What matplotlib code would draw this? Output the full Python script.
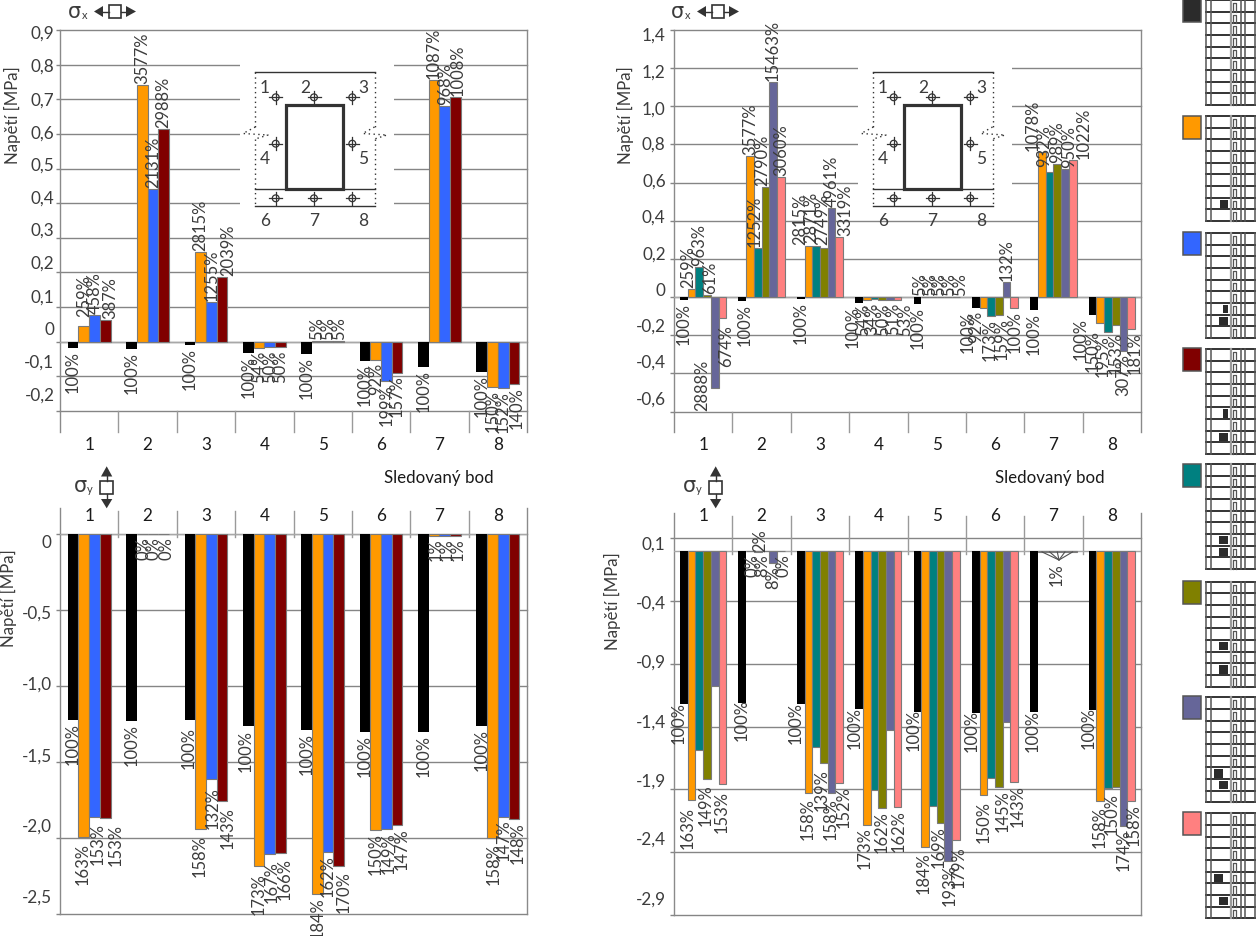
import matplotlib
matplotlib.use("Agg")
import matplotlib.pyplot as plt
from matplotlib.patches import Rectangle, Circle, Polygon
from matplotlib.transforms import ScaledTranslation

plt.rcParams['font.family'] = ['Lato', 'DejaVu Sans']

W, H = 1256, 937
points = ['1', '2', '3', '4', '5', '6', '7', '8']

BLACK, ORANGE, BLUE, MAROON = '#000000', '#FF9900', '#3366FF', '#800000'
TEAL, OLIVE, PURPLE, PINK = '#008080', '#808000', '#666699', '#FF8080'

# ---- sigma-x, left chart
tl_colors = [BLACK, ORANGE, BLUE, MAROON]
tl_values = [
    [-0.017, -0.0206, -0.0092, -0.032, -0.036, -0.055, -0.072, -0.087],
    [0.044, 0.740, 0.260, -0.0175, 0.002, -0.052, 0.757, -0.132],
    [0.076, 0.440, 0.115, -0.016, 0.002, -0.113, 0.680, -0.133],
    [0.064, 0.615, 0.188, -0.016, 0.002, -0.089, 0.708, -0.122],
]
tl_labels = [
    ['100%'] * 8,
    ['259%', '3577%', '2815%', '54%', '5%', '92%', '1087%', '150%'],
    ['458%', '2131%', '1255%', '50%', '5%', '199%', '968%', '152%'],
    ['387%', '2988%', '2039%', '50%', '5%', '157%', '1008%', '140%'],
]

# ---- sigma-x, right chart
tr_colors = [BLACK, ORANGE, TEAL, OLIVE, PURPLE, PINK]
tr_values = [
    [-0.017, -0.021, -0.009, -0.032, -0.035, -0.058, -0.070, -0.093],
    [0.044, 0.741, 0.266, -0.0175, 0.002, -0.055, 0.759, -0.138],
    [0.158, 0.257, 0.269, -0.011, 0.002, -0.100, 0.655, -0.182],
    [0.010, 0.577, 0.257, -0.016, 0.002, -0.093, 0.696, -0.145],
    [-0.477, 1.127, 0.467, -0.016, 0.002, 0.077, 0.671, -0.285],
    [-0.112, 0.631, 0.313, -0.017, 0.002, -0.058, 0.720, -0.170],
]
tr_labels = [
    ['100%'] * 8,
    ['259%', '3577%', '2815%', '54%', '5%', '92%', '1078%', '150%'],
    ['963%', '1252%', '2871%', '34%', '5%', '173%', '932%', '195%'],
    ['61%', '2790%', '2749%', '50%', '5%', '159%', '989%', '153%'],
    ['2888%', '15463%', '4961%', '51%', '5%', '132%', '950%', '307%'],
    ['674%', '3060%', '3319%', '53%', '5%', '100%', '1022%', '181%'],
]

# ---- sigma-y, left chart
bl_colors = [BLACK, ORANGE, BLUE, MAROON]
bl_values = [
    [-1.222, -1.230, -1.224, -1.263, -1.290, -1.300, -1.300, -1.263],
    [-1.993, -0.002, -1.941, -2.182, -2.368, -1.950, -0.010, -2.000],
    [-1.864, -0.002, -1.614, -2.107, -2.090, -1.940, -0.010, -1.860],
    [-1.868, -0.002, -1.754, -2.099, -2.184, -1.914, -0.010, -1.875],
]
bl_labels = [
    ['100%'] * 8,
    ['163%', '0%', '158%', '173%', '184%', '150%', '1%', '158%'],
    ['153%', '0%', '132%', '167%', '162%', '149%', '1%', '147%'],
    ['153%', '0%', '143%', '166%', '170%', '147%', '1%', '148%'],
]

# ---- sigma-y, right chart
br_colors = [BLACK, ORANGE, TEAL, OLIVE, PURPLE, PINK]
br_values = [
    [-1.217, -1.214, -1.220, -1.259, -1.286, -1.294, -1.280, -1.267],
    [-1.984, -0.002, -1.931, -2.180, -2.360, -1.944, -0.008, -1.989],
    [-1.585, -0.008, -1.563, -1.905, -2.029, -1.807, -0.008, -1.892],
    [-1.815, -0.005, -1.693, -2.045, -2.167, -1.878, -0.008, -1.884],
    [-1.074, -0.100, -1.931, -1.423, -2.471, -1.360, -0.008, -2.193],
    [-1.860, -0.002, -1.852, -2.037, -2.304, -1.844, -0.008, -1.995],
]
br_labels = [
    ['100%'] * 8,
    ['163%', '0%', '158%', '173%', '184%', '150%', None, '158%'],
    [None, '2%', None, None, None, None, None, None],
    ['149%', '8%', '139%', '162%', '169%', '145%', None, '150%'],
    [None, '8%', '158%', None, '193%', None, '1%', '174%'],
    ['153%', '0%', '152%', '162%', '179%', '143%', None, '158%'],
]

# hand-moved data labels: (series, point) -> pixel shift
tl_shift = {(1, 0): (0, 8), (3, 0): (5, 0), (3, 2): (6, 0), (3, 6): (2, 0), (3, 7): (3, 0)}
tr_shift = {
    (1, 0): (-3, 0), (3, 0): (3, 0), (4, 0): (-12, 31), (5, 0): (4, -4),
    (0, 1): (2, 0), (2, 1): (-3, 0), (3, 1): (-3, 0),
    (1, 2): (-8, 0), (2, 2): (-5, 2), (3, 2): (-2, 2), (5, 2): (6, 0),
    (0, 3): (-6, 0), (1, 3): (-4, 0), (2, 3): (-2, 0), (3, 3): (1, 0), (4, 3): (3, 0), (5, 3): (7, 0),
    (1, 4): (-5, 0), (2, 4): (-3, 0), (3, 4): (-1, 0), (4, 4): (1, 0), (5, 4): (4, 0),
    (0, 5): (-8, 0), (1, 5): (-7, 0), (2, 5): (-2, 0), (3, 5): (3, 0),
    (1, 6): (-9, 0), (2, 6): (-5, 4), (4, 6): (4, 0), (5, 6): (11, 0),
    (0, 7): (-12, 0), (1, 7): (-8, -4), (2, 7): (-5, 0), (3, 7): (0, -4), (5, 7): (4, 0),
}
bl_shift = {
    (1, 0): (-1, -3), (2, 0): (3, -3), (3, 0): (10, -3),
    (1, 1): (1, 0), (2, 1): (1, 0), (3, 1): (3, 0),
    (0, 2): (-1, -4), (1, 2): (-1, -3), (2, 2): (1, -5), (3, 2): (6, -4),
    (0, 3): (-3, -1), (1, 3): (0, -4), (2, 3): (2, -4), (3, 3): (4, -2),
    (1, 4): (0, 0), (3, 4): (5, -2), (2, 5): (2, 0), (3, 5): (5, 0),
    (1, 6): (2, 0), (2, 6): (2, 0), (3, 6): (2, 0),
    (1, 7): (1, -2), (2, 7): (1, 0), (3, 7): (4, 0),
}
br_shift = {
    (0, 0): (-5, 5), (1, 0): (-4, -4), (3, 0): (-1, -2), (5, 0): (-1, -4),
    (0, 1): (-1, 7), (1, 1): (2, 0), (2, 1): (3, 26), (3, 1): (-3, 0), (5, 1): (3, 0),
    (0, 2): (-5, 5), (1, 2): (-1, -2), (3, 2): (-2, -3), (4, 2): (-1, -2), (5, 2): (5, 0),
    (0, 3): (-4, 5), (1, 3): (-2, 0), (5, 3): (1, 0),
    (0, 4): (-4, 6), (1, 4): (-1, -2), (3, 4): (-2, 0), (4, 4): (1, 0), (5, 4): (3, -3),
    (0, 5): (-4, 6), (1, 5): (0, -3), (3, 5): (4, 0), (5, 5): (3, 0),
    (0, 6): (-1, 5), (4, 6): (-8, -8),
    (0, 7): (-4, 6), (1, 7): (-1, -3), (3, 7): (-4, -3), (5, 7): (3, 0),
}

GRID = '#858585'
TXT = '#3c3c3c'
FS = 12.3
LABEL_FS = 11.9

fig = plt.figure(figsize=(W / 100, H / 100), dpi=100, facecolor='white')


def make_chart(rect, ylim, yticks, yticklabels, tick_label_px, values, labels, colors,
               bar_w, cat_top, div_span, ylabel_xy, label_off, ypad):
    left, top, right, bottom = rect
    ax = fig.add_axes([left / W, 1 - bottom / H, (right - left) / W, (bottom - top) / H])
    ax.set_xlim(-0.5, 7.5)
    ax.set_ylim(*ylim)
    ax.set_facecolor('white')
    scale = (bottom - top) / (ylim[1] - ylim[0])
    ax.set_yticks(yticks)
    ax.set_yticklabels(yticklabels, fontsize=FS, color=TXT)
    ax.tick_params(axis='y', length=3, width=1, color=GRID, pad=ypad)
    for tick, v, lp in zip(ax.yaxis.get_major_ticks(), yticks, tick_label_px):
        gp = top + (ylim[1] - v) * scale
        tick.label1.set_transform(tick.label1.get_transform() +
                                  ScaledTranslation(0, (gp - lp) / 100, fig.dpi_scale_trans))
    ax.yaxis.grid(True, color=GRID, lw=1)
    for gl in ax.get_ygridlines():
        gl.set_clip_on(False)
    ax.set_axisbelow(True)
    ax.set_xticks(range(8))
    ax.set_xticklabels(points, fontsize=FS, color='#1a1a1a')
    if cat_top:
        ax.xaxis.tick_top()
        pad = (top - 515.7 - 8) * 0.72
    else:
        pad = (445 - bottom - 8) * 0.72
    ax.tick_params(axis='x', length=0, pad=pad)
    for s in ax.spines.values():
        s.set_visible(False)
    tr = ax.get_xaxis_transform()
    y0 = (bottom - div_span[0]) / (bottom - top)
    y1 = (bottom - div_span[1]) / (bottom - top)
    yb = (bottom - div_span[2]) / (bottom - top)
    yt = (bottom - div_span[3]) / (bottom - top)
    for k in range(9):
        x = k - 0.5
        a, b = (yb, yt) if k in (0, 8) else (y0, y1)
        ax.plot([x, x], [a, b], transform=tr, color='#9a9a9a' if 0 < k < 8 else '#8a8a8a',
                lw=1, clip_on=False, zorder=1.5)
    ax.axhline(0, color='#a8a8a8', lw=1, zorder=1.5)
    n = len(values)
    for j, (vals, c) in enumerate(zip(values, colors)):
        xs = [i + (j - (n - 1) / 2) * bar_w for i in range(8)]
        ax.bar(xs, vals, width=bar_w, color=c,
               edgecolor='none' if c == BLACK else '#7a7a7a',
               linewidth=0 if c == BLACK else 0.8, zorder=3)
        for i, (x, v) in enumerate(zip(xs, vals)):
            t = labels[j][i]
            if t is None:
                continue
            dx, dy = label_off.get((j, i), (0, 0))
            ax.annotate(t, xy=(x, v), xytext=(dx, (2 if v > 0 else -2) + dy),
                        textcoords='offset pixels', rotation=90, ha='center',
                        va='bottom' if v > 0 else 'top', fontsize=LABEL_FS, color=TXT,
                        annotation_clip=False, zorder=5)
    ax.set_ylabel('Napětí [MPa]', fontsize=FS - 0.2, color=TXT, va='center')
    ax.yaxis.set_label_coords((ylabel_xy[0] - left) / (right - left),
                              (bottom - ylabel_xy[1]) / (bottom - top))
    return ax


ax_tl = make_chart((60, 31, 527, 412), (-0.2, 0.9),
                   [-0.2, -0.1, 0, 0.1, 0.2, 0.3, 0.4, 0.5, 0.6, 0.7, 0.8, 0.9],
                   ['-0,2', '-0,1', '0', '0,1', '0,2', '0,3', '0,4', '0,5', '0,6', '0,7', '0,8', '0,9'],
                   [394, 361, 329, 296, 262, 229, 197, 164, 132, 99, 65, 32],
                   tl_values, tl_labels, tl_colors, 0.1835, False, (433, 412, 433, 31), (12, 115),
                   tl_shift, 1)
ax_tr = make_chart((674, 31, 1141, 412.5), (-0.6, 1.4),
                   [-0.6, -0.4, -0.2, 0, 0.2, 0.4, 0.6, 0.8, 1.0, 1.2, 1.4],
                   ['-0,6', '-0,4', '-0,2', '0', '0,2', '0,4', '0,6', '0,8', '1,0', '1,2', '1,4'],
                   [398, 361, 325, 289, 253, 216, 180, 143, 108, 71, 34],
                   tr_values, tr_labels, tr_colors, 0.132, False, (433, 412.5, 433, 31), (625, 115),
                   tr_shift, 3)
ax_bl = make_chart((60, 535, 527, 915), (-2.5, 0),
                   [-2.5, -2.0, -1.5, -1.0, -0.5, 0],
                   ['-2,5', '-2,0', '-1,5', '-1,0', '-0,5', '0'],
                   [896, 825, 755, 683, 612, 541],
                   bl_values, bl_labels, bl_colors, 0.1835, True, (538, 512, 915, 509), (8, 598),
                   bl_shift, 3)
ax_br = make_chart((674, 539.3, 1141, 916), (-2.9, 0.1),
                   [-2.9, -2.4, -1.9, -1.4, -0.9, -0.4, 0.1],
                   ['-2,9', '-2,4', '-1,9', '-1,4', '-0,9', '-0,4', '0,1'],
                   [898, 838, 780, 721, 661, 602, 543],
                   br_values, br_labels, br_colors, 0.132, True, (555, 517, 916, 514), (612, 601),
                   br_shift, 3)

# leader lines of the overlapping labels in sigma-y, right chart, point 7
for j in (1, 2, 3, 4, 5):
    xb = 6 + (j - 2.5) * 0.132
    ax_br.annotate('', xy=(xb, br_values[j][6]), xytext=(1059, H - 561), xycoords='data',
                   textcoords='figure pixels',
                   arrowprops=dict(arrowstyle='-', color='#505050', lw=0.8, shrinkA=0, shrinkB=0),
                   zorder=4, annotation_clip=False)

# ---- overlay in pixel coordinates: schematic, symbols, legend
ov = fig.add_axes([0, 0, 1, 1], zorder=10)
ov.set_xlim(0, W)
ov.set_ylim(H, 0)
ov.axis('off')
ov.patch.set_alpha(0)
DARK = '#333333'


def schematic(sx):
    ov.add_patch(Rectangle((240 + sx, 55), 154, 160, fc='white', ec='none', zorder=1))
    for y in (73.3, 190.3, 207.3):
        ov.plot([255 + sx, 374.7 + sx], [y, y], color=DARK, lw=1, zorder=2)
    for x0, xm, xp in ((255.3, 243, 268), (374.5, 362.7, 387)):
        ov.plot([x0 + sx] * 2, [73, 128], color=DARK, lw=1, ls=(0, (1, 2.5)), zorder=2)
        ov.plot([x0 + sx] * 2, [140, 207], color=DARK, lw=1, ls=(0, (1, 2.5)), zorder=2)
        ov.plot([x0 + sx, xm + sx, xp + sx, x0 + sx], [128, 134.5, 136, 140], color=DARK, lw=1,
                ls=(0, (1, 2.5)), zorder=2)
    ov.add_patch(Rectangle((285.7 + sx, 106), 57.6, 84, fc='white', ec=DARK, lw=2.3, zorder=3))
    for x, y in [(275.7, 98.3), (314, 98.3), (352.3, 98.3), (275.7, 144.7), (352.3, 144.7),
                 (275.7, 199.3), (314, 199.3), (352.3, 199.3)]:
        ov.add_patch(Circle((x + sx, y), 3.4, fc='none', ec=DARK, lw=0.9, zorder=3))
        ov.plot([x + sx - 6.5, x + sx + 6.5], [y, y], color=DARK, lw=0.9, zorder=3)
        ov.plot([x + sx, x + sx], [y - 6.5, y + 6.5], color=DARK, lw=0.9, zorder=3)
    for t, x, y in [('1', 265, 88), ('2', 305.7, 88), ('3', 363.3, 88), ('4', 265, 159), ('5', 363.3, 159),
                    ('6', 265, 220.7), ('7', 314, 220.7), ('8', 363.3, 220.7)]:
        ov.text(x + sx, y, t, fontsize=12.5, color=TXT, ha='center', va='center', zorder=4)


schematic(0)
schematic(618)


def sigma_x(sx):
    ov.text(74 + sx, 12, 'σ', fontsize=15, color=TXT, ha='center', va='center', family='DejaVu Sans')
    ov.text(84.5 + sx, 15.5, 'x', fontsize=8, color=TXT, ha='center', va='center')
    ov.add_patch(Rectangle((109 + sx, 6), 11.7, 12.7, fc='white', ec=DARK, lw=1.2))
    ov.plot([102 + sx, 109 + sx], [12.5, 12.5], color=DARK, lw=1)
    ov.plot([120.7 + sx, 126 + sx], [12.5, 12.5], color=DARK, lw=1)
    ov.add_patch(Polygon([(94 + sx, 12.5), (103 + sx, 7), (103 + sx, 18)], fc=DARK, ec='none'))
    ov.add_patch(Polygon([(136 + sx, 12.5), (126 + sx, 7), (126 + sx, 18)], fc=DARK, ec='none'))


def sigma_y(sx):
    ov.text(80 + sx, 486, 'σ', fontsize=15, color=TXT, ha='center', va='center', family='DejaVu Sans')
    ov.text(89.5 + sx, 490, 'y', fontsize=8, color=TXT, ha='center', va='center')
    ov.add_patch(Rectangle((100.3 + sx, 482.3), 12.7, 12.7, fc='white', ec=DARK, lw=1.2))
    ov.plot([106.7 + sx] * 2, [476, 482.3], color=DARK, lw=1)
    ov.plot([106.7 + sx] * 2, [495, 501], color=DARK, lw=1)
    ov.add_patch(Polygon([(106.7 + sx, 467.3), (101 + sx, 477.5), (112.3 + sx, 477.5)], fc=DARK, ec='none'))
    ov.add_patch(Polygon([(106.7 + sx, 509.3), (101 + sx, 500), (112.3 + sx, 500)], fc=DARK, ec='none'))


sigma_x(0)
sigma_x(603)
sigma_y(0)
sigma_y(609)

ov.text(438.5, 478, 'Sledovaný bod', fontsize=12.2, color='#1a1a1a', ha='center', va='center')
ov.text(1049.5, 478, 'Sledovaný bod', fontsize=12.2, color='#1a1a1a', ha='center', va='center')

# legend: colour swatch + building icon with the highlighted cells
legend_colors = ['#2b2b2b', ORANGE, BLUE, MAROON, TEAL, OLIVE, PURPLE, PINK]
legend_tops = [1, 117, 234, 350, 465, 582.5, 698.3, 814.3]
legend_swatch = [0, 117, 232.7, 349, 465, 581.7, 697.3, 813.3]
# (left edge of the dark cell, width, storey)
legend_cells = [
    [],
    [(1220, 8.3, 8)],
    [(1223.3, 5, 7), (1219.3, 9, 8)],
    [(1223.3, 5, 6), (1219.3, 9, 8)],
    [(1219.3, 9, 7), (1219.3, 9, 8)],
    [(1219.3, 9, 6), (1219.3, 9, 8)],
    [(1214, 8.7, 7), (1219.3, 9, 8)],
    [(1214, 8.7, 6), (1219.3, 9, 8)],
]
ROW = 11.67
ICON = '#333333'
for col, st, tp, cells in zip(legend_colors, legend_swatch, legend_tops, legend_cells):
    ov.add_patch(Rectangle((1182.7, st), 18, 23, fc=col, ec='#555555', lw=1.1))
    for r in range(10):
        ov.plot([1205.7, 1255], [tp + r * ROW] * 2, color=ICON, lw=1.4)
    for x in (1205.7, 1211.3, 1240.7, 1245, 1255):
        ov.plot([x, x], [tp, tp + 9 * ROW], color='#555555', lw=1.1)
    ov.plot([1231, 1231], [tp, tp + 9 * ROW], color='#9a9a9a', lw=1.6)
    for r in range(9):
        y = tp + r * ROW
        ov.plot([1232.7, 1232.7, 1236.3, 1236.3], [y + ROW, y + 3, y + 3, y + ROW], color='#555555', lw=0.9)
    for x0, w, rw in cells:
        ov.add_patch(Rectangle((x0, tp + (rw - 1) * ROW + 2), w, ROW - 3.2, fc='#2b2b2b', ec='none', zorder=3))

fig.savefig('out.png', dpi=100)
